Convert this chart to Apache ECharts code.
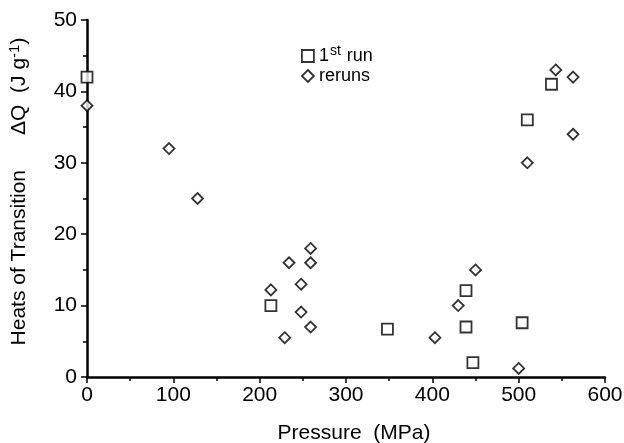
<!DOCTYPE html>
<html>
<head>
<meta charset="utf-8">
<script src="https://cdn.jsdelivr.net/npm/echarts@6/dist/echarts.min.js"></script>
<style>html,body{margin:0;padding:0;background:#fff;}#c{width:624px;height:443px;}</style>
</head>
<body>
<div id="c"></div>
<script>
// Data (Pressure MPa, ΔQ J/g)
var firstRun = [[0,42],[213,10],[348,6.7],[439,12.1],[439,7.0],[447,2.0],[504,7.6],[510,36],[538,41]];
var reruns = [[0,38],[95,32],[128,25],[213,12.2],[229,5.5],[234,16],[248,13],[248,9.1],[259,18],[259,16],[259,7],[403,5.5],[430,10],[450,15],[500,1.2],[510,30],[543,43],[563,42],[563,34]];
var xTicks = [0,100,200,300,400,500,600];
var yTicks = [0,10,20,30,40,50];
var seriesNames = ['1st run','reruns'];

var font = 'Liberation Sans, Arial, sans-serif';
var chart = echarts.init(document.getElementById('c'), null, {renderer:'canvas'});
var markerStyle = {color:'#fff', borderColor:'#000', borderWidth:1.8};
chart.setOption({
  animation:false,
  backgroundColor:'#fff',
  grid:{left:87, right:19, top:20, bottom:66, containLabel:false, outerBoundsMode:'none'},
  legend:{
    orient:'vertical', left:296, top:39, itemGap:2, itemWidth:12, itemHeight:12,
    data:[{name:seriesNames[0], icon:'rect', itemStyle:{borderWidth:1.8}},
          {name:seriesNames[1], icon:'diamond', itemStyle:{borderWidth:1.8}}],
    formatter:function(n){ return n==='1st run' ? '{n|1}{sup|st}{n| run}' : '{n|'+n+'}'; },
    textStyle:{fontFamily:font, fontSize:18, color:'#000',
      rich:{ n:{fontFamily:font, fontSize:18, color:'#000'},
             sup:{fontFamily:font, fontSize:14, color:'#000', verticalAlign:'top', padding:[0,1,10,1]} } }
  },
  xAxis:{
    type:'value', min:xTicks[0], max:xTicks[xTicks.length-1], interval:100,
    name:'Pressure  (MPa)', nameLocation:'middle', nameGap:46,
    nameTextStyle:{fontFamily:font, fontSize:21, color:'#000', padding:[0,0,0,16]},
    axisLine:{onZero:false, lineStyle:{color:'#000', width:2.5}},
    axisTick:{inside:false, length:6, lineStyle:{color:'#000', width:1.5}},
    minorTick:{show:true, splitNumber:2, length:4, lineStyle:{color:'#000', width:1.5}},
    axisLabel:{fontFamily:font, fontSize:21, color:'#000', margin:8},
    splitLine:{show:false}
  },
  yAxis:{
    type:'value', min:yTicks[0], max:yTicks[yTicks.length-1], interval:10,
    name:'{n|Heats of Transition      ΔQ  (J g}{sup|-1}{n|)}', nameLocation:'middle', nameGap:55,
    nameTextStyle:{fontFamily:font, fontSize:21, color:'#000', padding:[0,0,0,14],
      rich:{ n:{fontFamily:font, fontSize:21, color:'#000'},
             sup:{fontFamily:font, fontSize:15, color:'#000', verticalAlign:'top', padding:[0,0,10,0]} } },
    axisLine:{onZero:false, lineStyle:{color:'#000', width:2.5}},
    axisTick:{inside:false, length:6, lineStyle:{color:'#000', width:1.5}},
    minorTick:{show:true, splitNumber:2, length:4, lineStyle:{color:'#000', width:1.5}},
    axisLabel:{fontFamily:font, fontSize:21, color:'#000', margin:10},
    splitLine:{show:false}
  },
  series:[
    {name:seriesNames[0], type:'scatter', symbol:'rect', symbolSize:11, data:firstRun, clip:false,
     itemStyle:markerStyle, z:5},
    {name:seriesNames[1], type:'scatter', symbol:'diamond', symbolSize:[11,11], data:reruns, clip:false,
     itemStyle:markerStyle, z:5}
  ]
});
</script>
</body>
</html>
